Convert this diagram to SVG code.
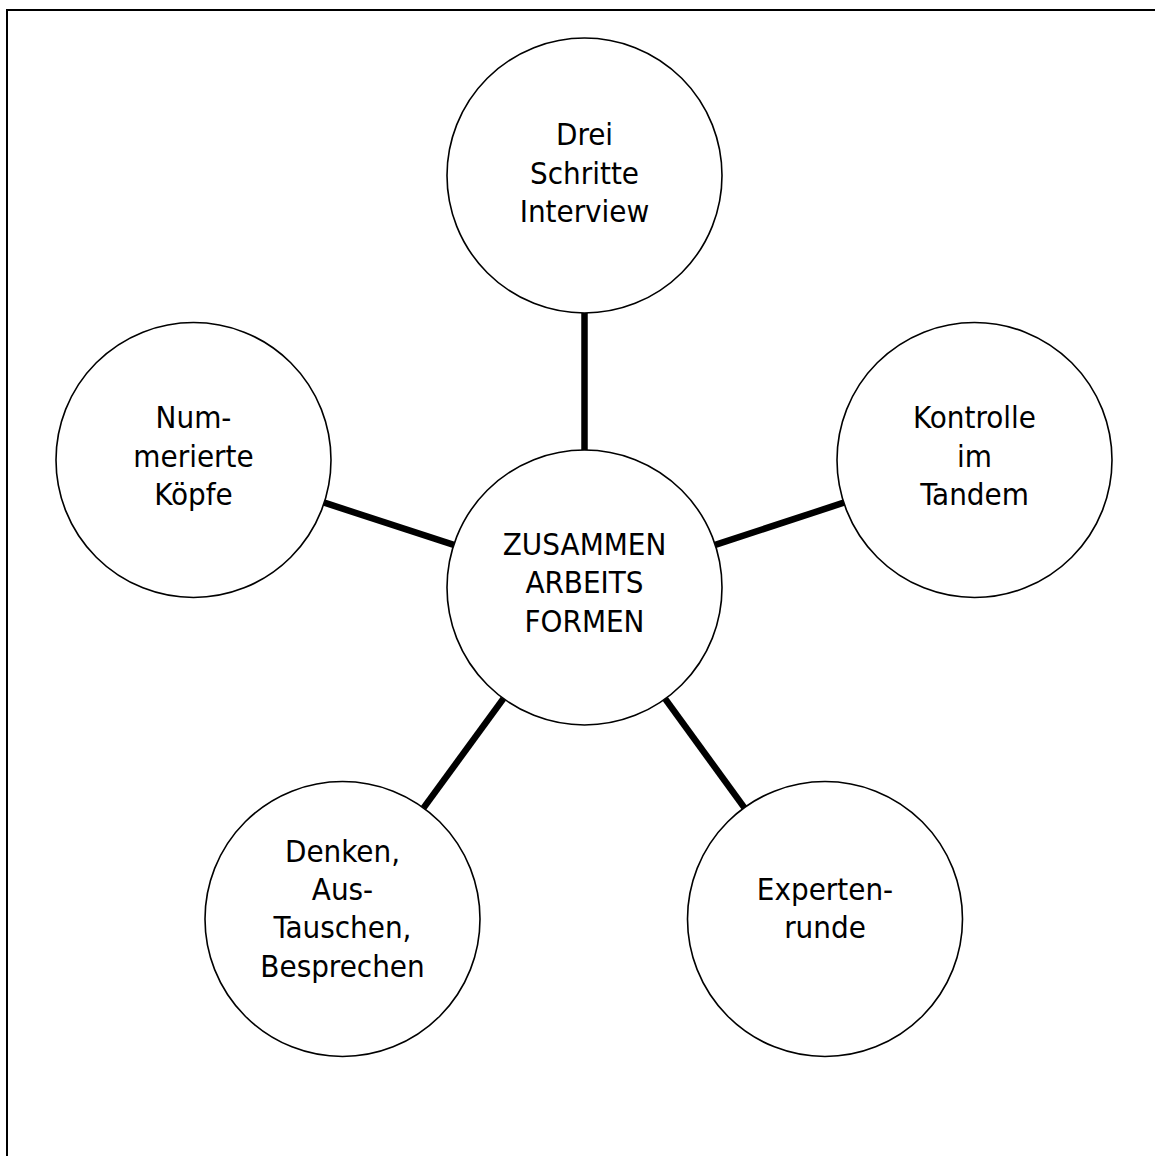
<svg xmlns="http://www.w3.org/2000/svg" width="1155" height="1156" viewBox="0 0 1155 1156">
  <style>
    .frame { fill: none; stroke: #000; stroke-width: 2; }
    .node circle { fill: #fff; stroke: #000; stroke-width: 1.6; }
    .node text { font-family: "DejaVu Sans Condensed", "DejaVu Sans", sans-serif; font-stretch: condensed; font-size: 31px; fill: #000; text-anchor: middle; }
    .edge { stroke: #000; stroke-width: 6.5; stroke-linecap: butt; }
  </style>
  <rect width="1155" height="1156" fill="#fff"/>
  <!-- page frame, open to the right and bottom -->
  <path class="frame" d="M7,1160 V10 H1160"/>

  <g id="connectors">
    <line class="edge" x1="584.5" y1="313" x2="584.5" y2="450"/>
    <line class="edge" x1="715.2" y1="544.8" x2="843.8" y2="502.7"/>
    <line class="edge" x1="453.8" y1="544.8" x2="324.3" y2="502.7"/>
    <line class="edge" x1="503.4" y1="698.6" x2="423.6" y2="807.9"/>
    <line class="edge" x1="665.2" y1="698.8" x2="744.3" y2="807.7"/>
  </g>

  <g id="center" class="node">
    <circle cx="584.5" cy="587.5" r="137.5"/>
    <text x="584.5" y="555">ZUSAMMEN</text>
    <text x="584.5" y="593">ARBEITS</text>
    <text x="584.5" y="632">FORMEN</text>
  </g>

  <g id="drei-schritte-interview" class="node">
    <circle cx="584.5" cy="175.5" r="137.5"/>
    <text x="584.5" y="145">Drei</text>
    <text x="584.5" y="184">Schritte</text>
    <text x="584.5" y="222">Interview</text>
  </g>

  <g id="kontrolle-im-tandem" class="node">
    <circle cx="974.5" cy="460" r="137.5"/>
    <text x="974.5" y="428">Kontrolle</text>
    <text x="974.5" y="467">im</text>
    <text x="974.5" y="505">Tandem</text>
  </g>

  <g id="nummerierte-koepfe" class="node">
    <circle cx="193.5" cy="460" r="137.5"/>
    <text x="193.5" y="428">Num-</text>
    <text x="193.5" y="467">merierte</text>
    <text x="193.5" y="505">Köpfe</text>
  </g>

  <g id="denken-austauschen" class="node">
    <circle cx="342.5" cy="919" r="137.5"/>
    <text x="342.5" y="862">Denken,</text>
    <text x="342.5" y="900">Aus-</text>
    <text x="342.5" y="938">Tauschen,</text>
    <text x="342.5" y="977">Besprechen</text>
  </g>

  <g id="expertenrunde" class="node">
    <circle cx="825" cy="919" r="137.5"/>
    <text x="825" y="900">Experten-</text>
    <text x="825" y="938">runde</text>
  </g>
</svg>
